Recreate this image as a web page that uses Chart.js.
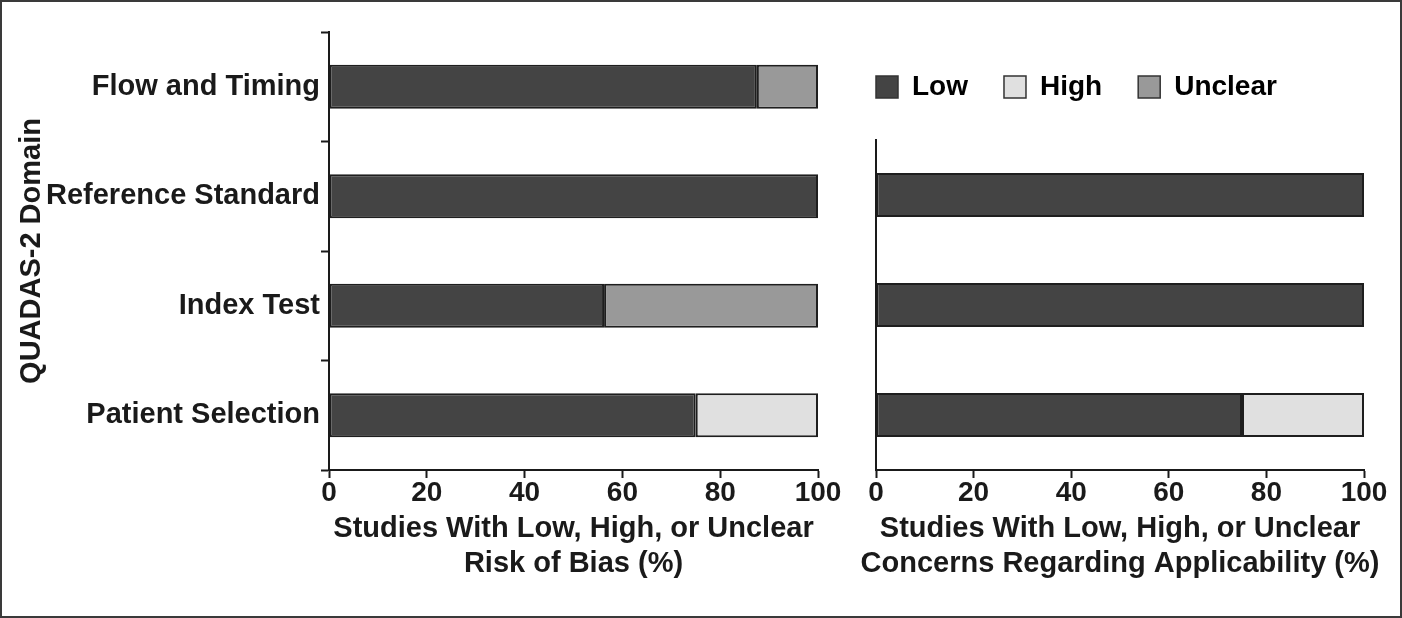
<!DOCTYPE html>
<html>
<head>
<meta charset="utf-8">
<script src="https://cdn.jsdelivr.net/npm/chart.js@4.4.1/dist/chart.umd.min.js"></script>
<style>
  html, body { margin: 0; padding: 0; background: #fff; }
  #frame { position: absolute; left: 0; top: 0; width: 1402px; height: 618px; box-sizing: border-box; border: 2px solid #3a3a3a; }
  canvas { position: absolute; top: 0; }
  #biasChart { left: 0; }
  #applChart { left: 830px; }
</style>
</head>
<body>
<div id="frame"></div>
<canvas id="biasChart" width="845" height="618"></canvas>
<canvas id="applChart" width="570" height="618"></canvas>
<script>
// Risk of bias (left panel), top to bottom
const biasDomains = ['Flow and Timing', 'Reference Standard', 'Index Test', 'Patient Selection'];
const biasLow = [87.5, 100, 56.25, 75];
const biasHigh = [null, null, null, 25];
const biasUnclear = [12.5, null, 43.75, null];

// Applicability concerns (right panel)
const applDomains = ['Reference Standard', 'Index Test', 'Patient Selection'];
const applLow = [100, 100, 75];
const applHigh = [null, null, 25];
const applUnclear = [null, null, null];

const xTicks = [0, 20, 40, 60, 80, 100];

const FONT = 'Liberation Sans, Arial, Helvetica, sans-serif';
const INK = '#1a1a1a';
const colors = { low: '#444444', high: '#e0e0e0', unclear: '#999999' };

// axis titles are wider than the plot area; stop canvas from squeezing them
function noSqueeze(canvas) {
  const ctx = canvas.getContext('2d');
  const fill = ctx.fillText.bind(ctx);
  ctx.fillText = (t, x, y) => fill(t, x, y);
  return canvas;
}

function makeDatasets(low, high, unclear) {
  const base = { borderColor: '#1e1e1e', borderWidth: 2, borderSkipped: false, barPercentage: 0.4, categoryPercentage: 1 };
  return [
    { ...base, label: 'Low', data: low, backgroundColor: colors.low },
    { ...base, label: 'High', data: high, backgroundColor: colors.high },
    { ...base, label: 'Unclear', data: unclear, backgroundColor: colors.unclear }
  ];
}

function xScale(titleLines) {
  return {
    stacked: true,
    min: 0,
    max: 100,
    afterBuildTicks: (s) => { s.ticks = xTicks.map(v => ({ value: v })); },
    afterFit: (s) => { s.height = 148; },
    grid: { drawOnChartArea: false, drawTicks: true, tickLength: 8, tickWidth: 2, tickColor: INK },
    border: { display: true, color: INK, width: 2 },
    ticks: { color: INK, padding: 0, maxRotation: 0, font: { family: FONT, size: 28, weight: 'bold', lineHeight: 1.1 } },
    title: {
      display: true,
      text: titleLines,
      color: INK,
      padding: { top: 0, bottom: 36 },
      font: { family: FONT, size: 29, weight: 'bold', lineHeight: 1.207 }
    }
  };
}

// pushes the plot area down below the legend
const legendGap = {
  id: 'legendGap',
  beforeInit(chart) {
    if (!chart.legend) return;
    const fit = chart.legend.fit;
    chart.legend.fit = function () {
      fit.bind(chart.legend)();
      this.height += 29;
    };
  }
};

new Chart(noSqueeze(document.getElementById('biasChart')), {
  type: 'bar',
  data: { labels: biasDomains, datasets: makeDatasets(biasLow, biasHigh, biasUnclear) },
  options: {
    indexAxis: 'y',
    responsive: false,
    animation: false,
    layout: { padding: { top: 32, right: 27, bottom: 0, left: 0 } },
    plugins: { legend: { display: false }, tooltip: { enabled: false } },
    scales: {
      x: xScale(['Studies With Low, High, or Unclear', 'Risk of Bias (%)']),
      y: {
        stacked: true,
        afterFit: (s) => { s.width = 329; },
        grid: { offset: true, drawOnChartArea: false, drawTicks: true, tickLength: 8, tickWidth: 2, tickColor: INK },
        border: { display: true, color: INK, width: 2 },
        ticks: { color: INK, padding: 1, font: { family: FONT, size: 29, weight: 'bold' } },
        title: {
          display: true,
          text: 'QUADAS-2 Domain',
          color: INK,
          padding: { top: 15, bottom: 0 },
          font: { family: FONT, size: 29, weight: 'bold', lineHeight: 1.2 }
        }
      }
    }
  }
});

new Chart(noSqueeze(document.getElementById('applChart')), {
  type: 'bar',
  data: { labels: applDomains, datasets: makeDatasets(applLow, applHigh, applUnclear) },
  plugins: [legendGap],
  options: {
    indexAxis: 'y',
    responsive: false,
    animation: false,
    layout: { padding: { top: 37, right: 36, bottom: 0, left: 10 } },
    plugins: {
      tooltip: { enabled: false },
      legend: {
        display: true,
        position: 'top',
        align: 'start',
        labels: {
          boxWidth: 22,
          boxHeight: 22,
          padding: 36,
          color: INK,
          font: { family: FONT, size: 28, weight: 'bold' },
          generateLabels: (chart) => chart.data.datasets.map((ds, i) => ({
            text: ds.label,
            fillStyle: ds.backgroundColor,
            strokeStyle: '#333',
            lineWidth: 1.5,
            datasetIndex: i,
            hidden: false
          }))
        }
      }
    },
    scales: {
      x: xScale(['Studies With Low, High, or Unclear', 'Concerns Regarding Applicability (%)']),
      y: {
        stacked: true,
        afterFit: (s) => { s.width = 36; },
        grid: { display: false },
        border: { display: true, color: INK, width: 2 },
        ticks: { display: false }
      }
    }
  }
});
</script>
</body>
</html>
